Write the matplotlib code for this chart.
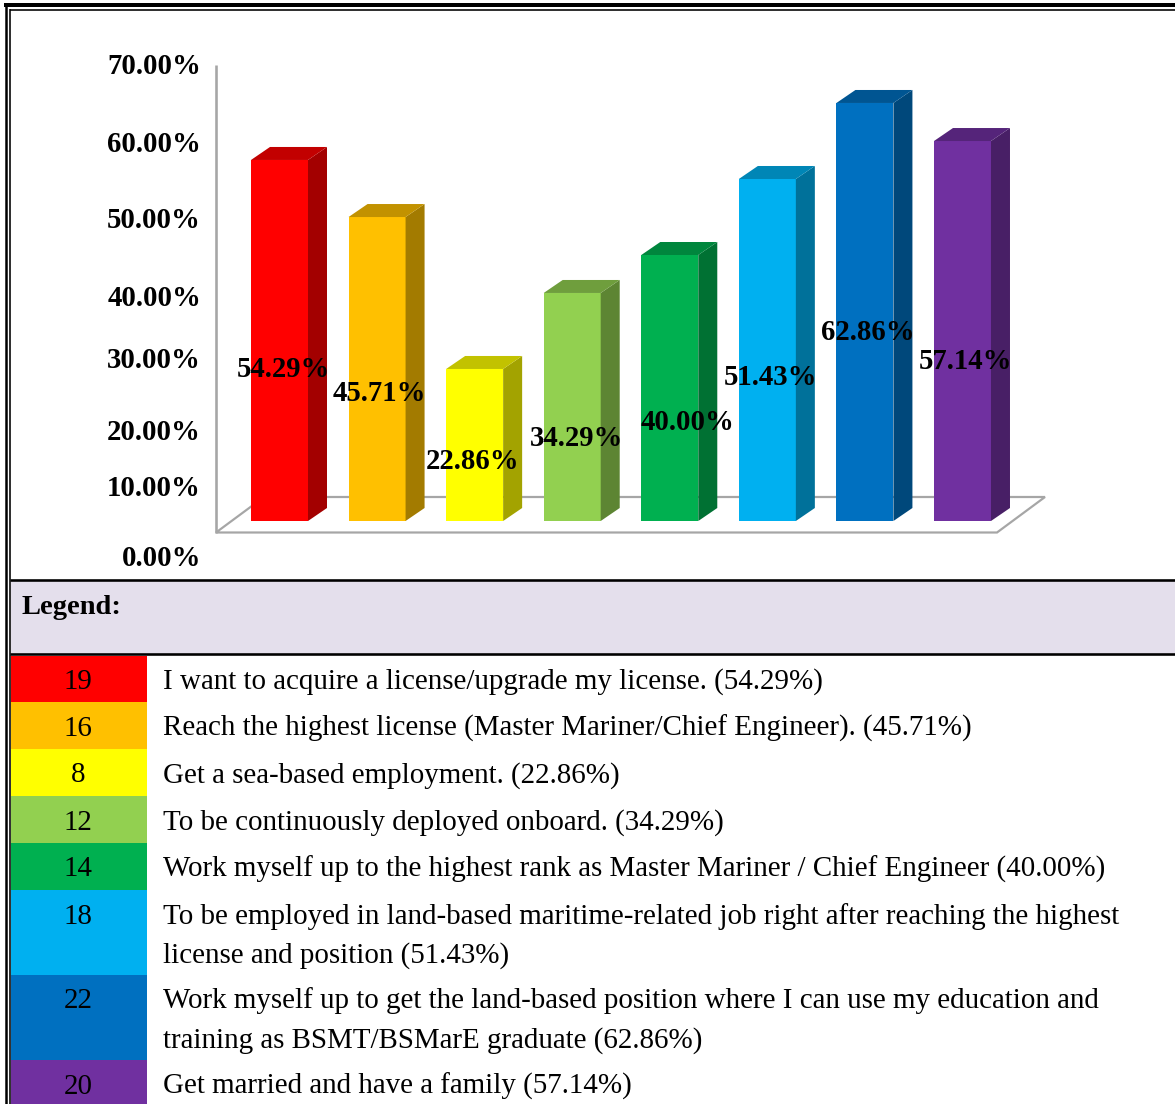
import matplotlib
matplotlib.use("Agg")
import matplotlib.pyplot as plt
from matplotlib.patches import Polygon, Rectangle
import matplotlib.colors as mcolors

# ---------------- data ----------------
categories = [
    "I want to acquire a license/upgrade my license.",
    "Reach the highest license (Master Mariner/Chief Engineer).",
    "Get a sea-based employment.",
    "To be continuously deployed onboard.",
    "Work myself up to the highest rank as Master Mariner / Chief Engineer",
    "To be employed in land-based maritime-related job right after reaching the highest\nlicense and position",
    "Work myself up to get the land-based position where I can use my education and\ntraining as BSMT/BSMarE graduate",
    "Get married and have a family",
]
counts = [19, 16, 8, 12, 14, 18, 22, 20]
percents = [54.29, 45.71, 22.86, 34.29, 40.00, 51.43, 62.86, 57.14]
colors = ["#FF0000", "#FFC000", "#FFFF00", "#92D050",
          "#00B050", "#00B0F0", "#0070C0", "#7030A0"]
ytick_labels = ["70.00%", "60.00%", "50.00%", "40.00%",
                "30.00%", "20.00%", "10.00%", "0.00%"]

# ---------------- styling / layout ----------------
W, H = 1175, 1104
SERIF = ["Liberation Serif", "DejaVu Serif"]
ytick_px = [67, 144, 221, 299, 360, 432, 488, 558]
label_frac = [0.42, 0.42, 0.39, 0.36, 0.37, 0.42, 0.45, 0.42]
label_dx_px = [3.5, 2.5, -2, 4, 18, 3, 3, 3]
TABLE_FS = 20.9

PX_PER_UNIT = 97.57      # px per category
PX_PER_PCT = 6.65        # px per percent
X0_PX = 279.5            # px of first bar centre
Y0_PX = 521              # px of 0 %

def px2pt(p):
    return p * 72.0 / 100.0

def shade(c, f):
    r, g, b = mcolors.to_rgb(c)
    return (r * f, g * f, b * f)

fig = plt.figure(figsize=(W / 100, H / 100), dpi=100)
fig.patch.set_facecolor("white")

# ---- frame axes in pixel coordinates ----
fa = fig.add_axes([0, 0, 1, 1])
fa.set_xlim(0, W)
fa.set_ylim(H, 0)
fa.axis("off")

# outer double border (top, left)
fa.plot([4, W], [5, 5], color="black", lw=px2pt(4), solid_capstyle="butt")
fa.plot([9.5, W], [9.5, 9.5], color="black", lw=px2pt(1.6), solid_capstyle="butt")
fa.plot([5.5, 5.5], [3, H], color="black", lw=px2pt(2.5), solid_capstyle="butt")
fa.plot([9.8, 9.8], [9, H], color="black", lw=px2pt(1.6), solid_capstyle="butt")

# legend header
fa.add_patch(Rectangle((10.5, 580), W - 10.5, 74, facecolor="#E4DFEC", edgecolor="none"))
fa.plot([10, W], [580, 580], color="black", lw=px2pt(2.6), solid_capstyle="butt")
fa.plot([10, W], [654, 654], color="black", lw=px2pt(2.6), solid_capstyle="butt")
fa.text(22, 607, "Legend:", fontsize=20.5, fontweight="bold", family=SERIF,
        ha="left", va="center")

# y tick labels
for lab, ypx in zip(ytick_labels, ytick_px):
    fa.text(201, ypx, lab, fontsize=20.7, fontweight="bold", family=SERIF,
            ha="right", va="center")

# legend rows
row_tops = [655.5, 702, 749, 796, 843, 890, 975, 1060]
row_bots = row_tops[1:] + [H + 2]
for i, (cat, n, p, c) in enumerate(zip(categories, counts, percents, colors)):
    top, bot = row_tops[i], row_bots[i]
    fa.add_patch(Rectangle((10.5, top), 147 - 10.5, bot - top,
                           facecolor=c, edgecolor="none"))
    fa.text(78, top + 33.5, str(n), fontsize=TABLE_FS, family=SERIF,
            ha="center", va="baseline", color="black")
    txt = f"{cat} ({p:.2f}%)"
    for k, line in enumerate(txt.split("\n")):
        fa.text(163, top + 33.5 + 39 * k, line, fontsize=TABLE_FS, family=SERIF,
                ha="left", va="baseline", color="black")

# ---- chart axes in data coordinates ----
ax_l, ax_r, ax_b, ax_t = 200, 1060, 545, 40
ax = fig.add_axes([ax_l / W, (H - ax_b) / H, (ax_r - ax_l) / W, (ax_b - ax_t) / H])
ax.set_xlim((ax_l - X0_PX) / PX_PER_UNIT, (ax_r - X0_PX) / PX_PER_UNIT)
ax.set_ylim((Y0_PX - ax_b) / PX_PER_PCT, (Y0_PX - ax_t) / PX_PER_PCT)
ax.axis("off")
ax.patch.set_visible(False)

bw = 57 / PX_PER_UNIT          # bar width
ddx = 19 / PX_PER_UNIT         # depth offset x
ddy = 13 / PX_PER_PCT          # depth offset y

# floor
f_front = (Y0_PX - 532.5) / PX_PER_PCT
f_back = (Y0_PX - 497) / PX_PER_PCT
f_left = (216 - X0_PX) / PX_PER_UNIT
f_right = (997 - X0_PX) / PX_PER_UNIT
f_dx = 48 / PX_PER_UNIT
floor = Polygon([(f_left, f_front), (f_right, f_front),
                 (f_right + f_dx, f_back), (f_left + f_dx, f_back)],
                closed=True, facecolor="white", edgecolor="#A6A6A6",
                lw=px2pt(2.2), joinstyle="miter", zorder=1)
ax.add_patch(floor)
# vertical axis line
ax.plot([f_left, f_left], [f_front, (Y0_PX - 65) / PX_PER_PCT],
        color="#A6A6A6", lw=px2pt(2.6), solid_capstyle="butt", zorder=1)

xs = list(range(len(percents)))
ax.bar(xs, percents, width=bw, color=colors, linewidth=0, zorder=3)
for x, v, c in zip(xs, percents, colors):
    xl, xr = x - bw / 2, x + bw / 2
    side = Polygon([(xr, 0), (xr + ddx, ddy), (xr + ddx, v + ddy), (xr, v)],
                   closed=True, facecolor=shade(c, 0.64), edgecolor="none", zorder=3)
    top = Polygon([(xl, v), (xr, v), (xr + ddx, v + ddy), (xl + ddx, v + ddy)],
                  closed=True, facecolor=shade(c, 0.76), edgecolor="none", zorder=3)
    ax.add_patch(side)
    ax.add_patch(top)

for x, v, fr, dxp in zip(xs, percents, label_frac, label_dx_px):
    ax.text(x + dxp / PX_PER_UNIT, v * fr, f"{v:.2f}%", fontsize=20.7,
            fontweight="bold", family=SERIF, ha="center", va="center",
            zorder=5, clip_on=False)

fig.savefig("out.png", dpi=100, facecolor="white")
